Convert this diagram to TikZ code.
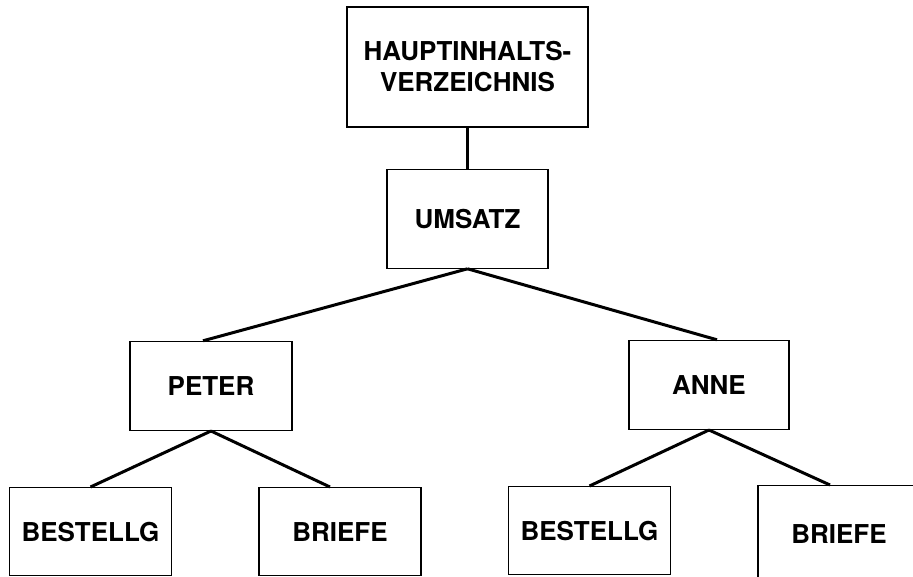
\documentclass[tikz,border=0pt]{standalone}
\usepackage{fontspec}
\setmainfont{TeX Gyre Heros}
\usetikzlibrary{positioning}

\begin{document}
\begin{tikzpicture}[node distance={56pt}, line width=1.2pt,
		box/.style = {draw, rectangle, minimum width=162pt, minimum height=88pt, inner sep=0pt, align=center, font=\fontsize{26}{31}\selectfont\bfseries},
		link/.style = {line width=3pt}]
		\useasboundingbox (0,0) rectangle (913pt,-577pt);
		\node[box, minimum width=241pt, minimum height=120pt] (haupt) at (467.5pt,-67pt) {HAUPTINHALTS-\\VERZEICHNIS};
		\node[box, minimum width=161pt, minimum height=99pt] (umsatz) [below=41pt of haupt] {UMSATZ};
		\node[box, minimum height=89pt] (peter) [below=72pt of umsatz, xshift=-256.5pt] {PETER};
		\node[box, minimum width=160pt, minimum height=89pt] (anne) [below=71pt of umsatz, xshift=241.5pt] {ANNE};
		\node[box] (bestellg1) [below=of peter, xshift=-120.5pt] {BESTELLG};
		\node[box] (briefe1) [below=of peter, xshift=129pt] {BRIEFE};
		\node[box] (bestellg2) [below=of anne, xshift=-119.5pt] {BESTELLG};
		\node[box, minimum height=96pt] (briefe2) [below=55pt of anne, xshift=130pt] {BRIEFE};
		
		\draw[link] (haupt) -- (umsatz);
		\draw[link] (umsatz.south) -- ([xshift=-8pt]peter.north);
		\draw[link] (umsatz.south) -- ([xshift=8pt]anne.north);
		\draw[link] (peter.south) -- (bestellg1.north);
		\draw[link] (peter.south) -- ([xshift=-10pt]briefe1.north);
		\draw[link] (anne.south) -- (bestellg2.north);
		\draw[link] (anne.south) -- ([xshift=-9pt]briefe2.north);

	\end{tikzpicture}
\end{document}
